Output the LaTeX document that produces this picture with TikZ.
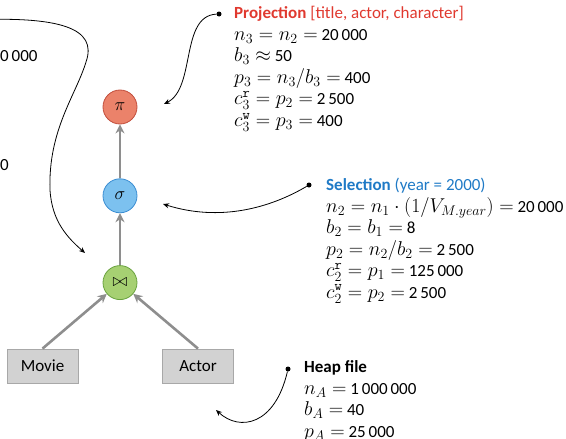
\RequirePackage{fix-cm}
\documentclass[tikz,border=0pt]{standalone}
\usepackage{fontspec}
\setmainfont{Carlito}
\usetikzlibrary{arrows.meta, positioning, calc}
\DeclareMathSizes{17}{20}{14}{10}
\definecolor{projred}{HTML}{E0392F}
\definecolor{selblue}{HTML}{1F7AC6}
\definecolor{pifill}{HTML}{EB826A}
\definecolor{piline}{HTML}{C24E3C}
\definecolor{sigfill}{HTML}{7CC1EF}
\definecolor{sigline}{HTML}{3A8DD2}
\definecolor{joinfill}{HTML}{A6D072}
\definecolor{joinline}{HTML}{69A23E}
\definecolor{relfill}{HTML}{D2D2D2}
\definecolor{relline}{HTML}{A8A8A8}
\definecolor{flow}{HTML}{8E8E8E}
\newcommand\infofont{\fontsize{17}{21.5}\selectfont\lineskiplimit-20pt\relax}

\begin{document}
\begin{tikzpicture}[
  x=1pt, y=-1pt,
  op/.style={circle, draw, line width=0.8pt, minimum size=34pt, inner sep=0pt, font=\fontsize{18}{18}\selectfont},
  rel/.style={draw=relline, fill=relfill, line width=0.8pt, minimum width=71pt, minimum height=34pt, font=\fontsize{17}{17}\selectfont},
  info/.style={anchor=north west, inner sep=0pt, align=left, font=\infofont},
  dot/.style={circle, fill=black, inner sep=0pt, minimum size=5pt},
  arr/.style={-{Stealth[length=9pt, width=9pt]}, line width=2.6pt, color=flow},
  note/.style={-{Stealth[length=6pt, width=5pt]}, line width=0.8pt}
]
\useasboundingbox (0,0) rectangle (566,439);

% operator tree
\node[op, fill=pifill, draw=piline] (proj) at (120,107) {$\pi$};
\node[op, fill=sigfill, draw=sigline, below=54pt of proj] (sel) {$\sigma$};
\node[op, fill=joinfill, draw=joinline, below=52pt of sel] (join) {$\bowtie$};
\node[rel] (movie) at (42.5,366) {Movie};
\node[rel] (actor) at (198,366) {Actor};

\draw[arr] (sel) -- (proj);
\draw[arr] (join) -- (sel);
\draw[arr] (movie.north) -- (join);
\draw[arr] (actor.north) -- (join);

% annotations
\node[dot] (pdot) at (219,14) {};
\node[info] (pinfo) at (234,6.5) {\textcolor{projred}{\textbf{Projection} [title, actor, character]}\\
  $n_3 = n_2 =$ 20\,000\\
  $b_3 \approx$ 50\\
  $p_3 = n_3/b_3 =$ 400\\
  $c_3^{\mathtt{r}} = p_2 =$ 2\,500\\
  $c_3^{\mathtt{w}} = p_3 =$ 400};

\node[dot] (sdot) at (309,185) {};
\node[info] (sinfo) at (326,178) {\textcolor{selblue}{\textbf{Selection} (year = 2000)}\\
  $n_2 = n_1 \cdot (1/V_{M.year}) =$ 20\,000\\
  $b_2 = b_1 =$ 8\\
  $p_2 = n_2/b_2 =$ 2\,500\\
  $c_2^{\mathtt{r}} = p_1 =$ 125\,000\\
  $c_2^{\mathtt{w}} = p_2 =$ 2\,500};

\node[dot] (hdot) at (288,369) {};
\node[info] (hinfo) at (304,360.5) {\textbf{Heap file}\\
  $n_A =$ 1\,000\,000\\
  $b_A =$ 40\\
  $p_A =$ 25\,000};

\node[anchor=west, inner sep=0pt, font=\fontsize{17}{17}\selectfont] (mcut1) at (0,56) {0\,000};
\node[anchor=west, inner sep=0pt, font=\fontsize{17}{17}\selectfont] (mcut2) at (0,165) {0};

\coordinate (ptip) at (164,104);
\coordinate (stip) at (163,204);
\coordinate (htip) at (216,410);
\coordinate (lstart) at (-30,20);
\coordinate (ltip) at (85,253);

\draw[note] (pdot) .. controls (180,16) and (196,88) .. (ptip);
\draw[note] (sdot) .. controls (270,208) and (220,222) .. (stip);
\draw[note] (hdot) .. controls (275,425) and (240,432) .. (htip);
\draw[note] (lstart) .. controls (60,16) and (98,28) .. (86,62)
  .. controls (76,95) and (48,130) .. (50,190)
  .. controls (52,222) and (68,238) .. (ltip);
\end{tikzpicture}
\end{document}
